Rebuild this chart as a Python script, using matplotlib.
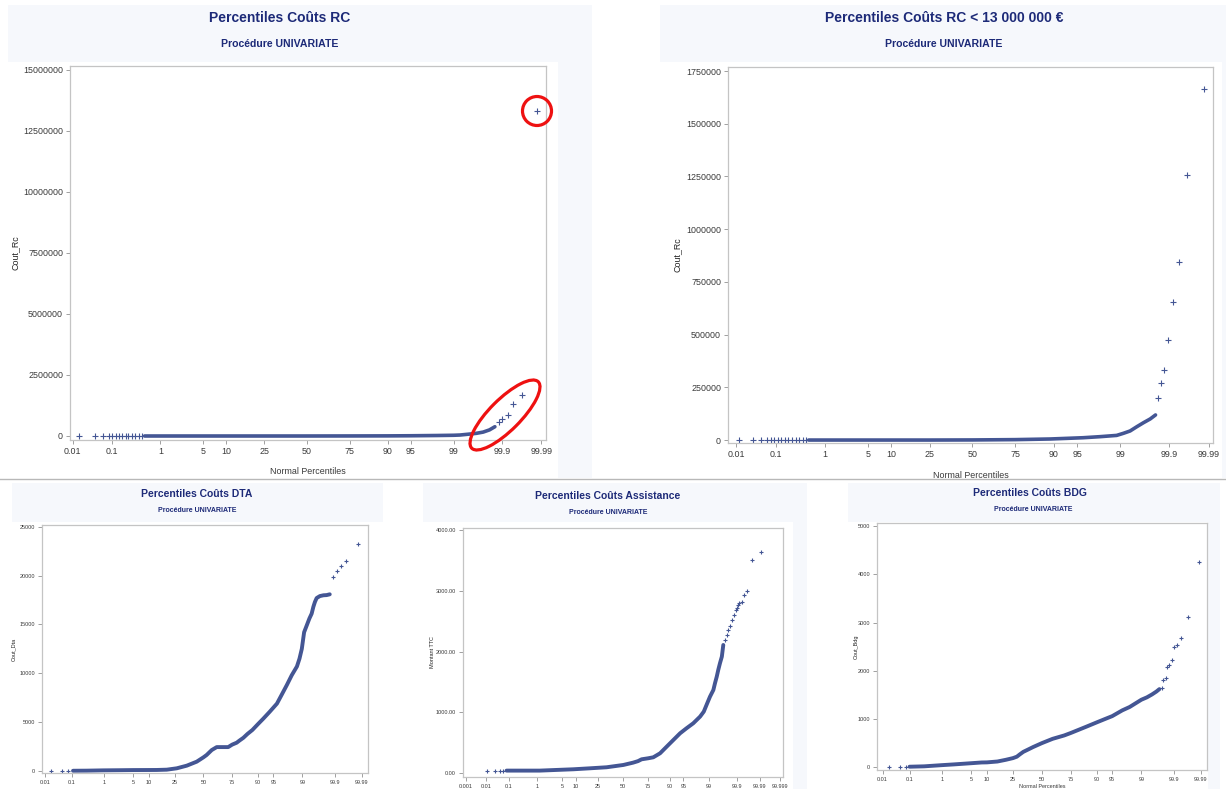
import numpy as np
import matplotlib.pyplot as plt
from matplotlib.patches import Rectangle, Ellipse, Circle

plt.rcParams['font.family'] = ['Liberation Sans', 'DejaVu Sans']

W, H = 1226, 789
MARK = '#445694'
TITLE = '#1d2a78'
FRAME = '#c4c4c4'

# ---- data: (percentile, value) ----
# Percentiles Couts RC (all claims)
rc_low_p = [0.015, 0.038, 0.062, 0.084, 0.10, 0.12, 0.14, 0.17, 0.20, 0.23, 0.27, 0.32, 0.38, 0.45]
rc_low_v = [0] * 14
rc_p = [0.5, 1, 5, 25, 50, 75, 90, 95, 98, 99, 99.24, 99.51, 99.64, 99.74, 99.81, 99.856]
rc_v = [0, 0, 0, 0, 0, 2000, 5000, 10000, 20000, 30000, 40000, 80000, 110000, 160000, 250000, 380000]
rc_tail_p = [99.886, 99.90, 99.927, 99.947, 99.967, 99.987]
rc_tail_v = [560000, 690000, 870000, 1300000, 1700000, 13320000]

# Percentiles Couts RC < 13 000 000
rcs_low_p = [0.012, 0.028, 0.045, 0.062, 0.077, 0.09, 0.11, 0.13, 0.16, 0.19, 0.23, 0.27, 0.32, 0.38, 0.45]
rcs_low_v = [0] * 15
rcs_p = [0.5, 1, 5, 25, 50, 75, 88.9, 93.1, 95.9, 97.75, 98.83, 99.12, 99.34, 99.51, 99.64, 99.74, 99.80]
rcs_v = [0, 0, 0, 0, 500, 2000, 5000, 8000, 11000, 16000, 22000, 32000, 43000, 63000, 82000, 100000, 119000]
rcs_tail_p = [99.823, 99.848, 99.872, 99.893, 99.919, 99.941, 99.962, 99.986]
rcs_tail_v = [201000, 272000, 332000, 476000, 656000, 846000, 1255000, 1665000]

# Percentiles Couts DTA
dta_low_p = [0.017, 0.044, 0.076]
dta_low_v = [20, 25, 30]
dta_p = [0.11, 0.31, 0.94, 2.5, 5, 9, 13.6, 19.5, 26.6, 34.8, 43.8, 50, 53, 57.8, 62.3, 67, 72,
         75, 78.3, 80, 82.6, 85, 87.5, 90, 92, 94, 95.8, 96.7, 97.5, 98.1, 98.6, 98.8, 98.96,
         99.02, 99.1, 99.24, 99.36, 99.45, 99.51, 99.56, 99.61, 99.69, 99.76, 99.81, 99.85]
dta_v = [30, 40, 70, 85, 100, 105, 110, 140, 280, 550, 960, 1400, 1640, 2150, 2450, 2450, 2450,
         2700, 2900, 3100, 3400, 3800, 4200, 4800, 5350, 6050, 6900, 7800, 8800, 9800, 10700, 11500, 12500,
         13200, 14200, 14900, 15600, 16100, 16800, 17300, 17700, 17900, 17980, 18000, 18080]
dta_tail_p = [99.887, 99.913, 99.937, 99.96, 99.986]
dta_tail_v = [19816, 20464, 20975, 21521, 23226]

# Percentiles Couts Assistance
ast_low_p = [0.011, 0.026, 0.043, 0.06]
ast_low_v = [40, 40, 40, 40]
ast_p = [0.08, 0.35, 1.2, 3.6, 9, 18.6, 33, 50.6, 61, 66, 69.5, 75.5, 79.6, 84.4, 88.3, 91.5, 94,
         95.8, 97.2, 98.2, 98.6, 98.9, 99.1, 99.3, 99.38, 99.46, 99.52, 99.58, 99.64, 99.68]
ast_v = [44, 44, 44, 55, 66, 82, 99, 137, 175, 200, 230, 247, 263, 329, 438, 548, 658,
         740, 822, 932, 1014, 1151, 1260, 1370, 1479, 1589, 1699, 1808, 1918, 2110]
ast_tail_p = [99.72, 99.76, 99.79, 99.82, 99.85, 99.87, 99.89, 99.90, 99.91, 99.92, 99.937, 99.95, 99.964, 99.978, 99.991]
ast_tail_v = [2192, 2274, 2356, 2422, 2520, 2600, 2680, 2720, 2760, 2800, 2822, 2932, 3003, 3507, 3644]

# Percentiles Couts BDG
bdg_low_p = [0.018, 0.046, 0.075]
bdg_low_v = [5, 8, 10]
bdg_p = [0.1, 0.3, 1, 2, 5, 8, 10, 15, 20, 25, 28, 30.5, 33.3, 37.6, 42, 50, 60, 70, 75, 80, 85,
         90, 93, 95, 97, 98, 99, 99.3, 99.5, 99.63, 99.7]
bdg_v = [12, 20, 45, 60, 85, 100, 102, 120, 155, 190, 220, 270, 320, 370, 420, 500, 590, 660, 710, 770, 840,
         930, 1000, 1060, 1180, 1250, 1400, 1450, 1510, 1570, 1620]
bdg_tail_p = [99.744, 99.774, 99.81, 99.832, 99.855, 99.879, 99.90, 99.923, 99.944, 99.967, 99.988]
bdg_tail_v = [1637, 1809, 1858, 2072, 2120, 2224, 2493, 2535, 2673, 3108, 4254]

pct_ticks = [0.01, 0.1, 1, 5, 10, 25, 50, 75, 90, 95, 99, 99.9, 99.99]
pct_ticks_ast = [0.001] + pct_ticks + [99.999]


def ppf(pct):
    # inverse normal cdf (Acklam), input in percent
    p = np.asarray(pct, float) / 100.0
    a = [-3.969683028665376e+01, 2.209460984245205e+02, -2.759285104469687e+02,
         1.383577518672690e+02, -3.066479806614716e+01, 2.506628277459239e+00]
    b = [-5.447609879822406e+01, 1.615858368580409e+02, -1.556989798598866e+02,
         6.680131188771972e+01, -1.328068155288572e+01]
    c = [-7.784894002430293e-03, -3.223964580411365e-01, -2.400758277161838e+00,
         -2.549732539343734e+00, 4.374664141464968e+00, 2.938163982698783e+00]
    d = [7.784695709041462e-03, 3.224671290700398e-01, 2.445134137142996e+00,
         3.754408661907416e+00]
    out = np.empty_like(p)
    lo = p < 0.02425
    hi = p > 1 - 0.02425
    mid = ~(lo | hi)
    q = np.sqrt(-2 * np.log(p[lo]))
    out[lo] = (((((c[0]*q+c[1])*q+c[2])*q+c[3])*q+c[4])*q+c[5]) / ((((d[0]*q+d[1])*q+d[2])*q+d[3])*q+1)
    q = np.sqrt(-2 * np.log(1 - p[hi]))
    out[hi] = -(((((c[0]*q+c[1])*q+c[2])*q+c[3])*q+c[4])*q+c[5]) / ((((d[0]*q+d[1])*q+d[2])*q+d[3])*q+1)
    q = p[mid] - 0.5
    r = q * q
    out[mid] = (((((a[0]*r+a[1])*r+a[2])*r+a[3])*r+a[4])*r+a[5])*q / (((((b[0]*r+b[1])*r+b[2])*r+b[3])*r+b[4])*r+1)
    return out


fig = plt.figure(figsize=(W / 100, H / 100), dpi=100)

# background boxes, in pixel coordinates
bg = fig.add_axes([0, 0, 1, 1])
bg.set_xlim(0, W)
bg.set_ylim(H, 0)
bg.axis('off')
bg.set_zorder(0)
for x0, x1, y0, y1, wx1 in [(8, 592, 5, 478, 558), (660, 1226, 5, 478, 1222),
                            (12, 383, 483, 789, 383), (423, 807, 483, 789, 793),
                            (848, 1220, 483, 789, 1208)]:
    ytop = 62 if y0 < 100 else 522
    bg.add_patch(Rectangle((x0, y0), x1 - x0, y1 - y0, color='#f6f8fc', lw=0))
    bg.add_patch(Rectangle((x0, ytop), wx1 - x0, y1 - ytop, color='white', lw=0))
bg.plot([0, W], [478.5, 478.5], color='#b8b8b8', lw=1)


def px_axes(l, t, r, b):
    return fig.add_axes([l / W, 1 - b / H, (r - l) / W, (b - t) / H])


def draw(box, low, dense, tail, ticks, xlim, ylim, yticks, ylabel, ylab_off,
         fs, lw, ms, fmt='{:d}', xlabel_off=None):
    ax = px_axes(*box)
    ax.set_zorder(1)
    ax.plot(ppf(low[0]), low[1], '+', color=MARK, ms=ms, mew=0.8, ls='none')
    ax.plot(ppf(dense[0]), dense[1], '-', color=MARK, lw=lw, solid_capstyle='round',
            solid_joinstyle='round')
    ax.plot(ppf(tail[0]), tail[1], '+', color=MARK, ms=ms, mew=0.8, ls='none')
    ax.set_xlim(*xlim)
    ax.set_ylim(*ylim)
    ax.set_xticks(ppf(ticks))
    ax.set_xticklabels([('%g' % t) for t in ticks])
    ax.set_yticks(yticks)
    ax.set_yticklabels([fmt.format(v) for v in yticks])
    for s in ax.spines.values():
        s.set_color(FRAME)
        s.set_linewidth(0.9)
    ax.tick_params(direction='out', length=3, width=0.7, color='#a0a0a0',
                   labelsize=fs, labelcolor='#3a3a3a', pad=2)
    ax.set_ylabel(ylabel, fontsize=fs, color='#222222')
    ax.yaxis.set_label_coords(ylab_off / (box[2] - box[0]), 0.5)
    if xlabel_off is not None:
        ax.set_xlabel('Normal Percentiles', fontsize=fs, color='#3a3a3a')
        ax.xaxis.set_label_coords(0.5, -xlabel_off / (box[3] - box[1]))
    return ax


# top-left
draw((70, 66, 546, 440), (rc_low_p, rc_low_v), (rc_p, rc_v), (rc_tail_p, rc_tail_v),
     pct_ticks, (-3.759, 3.791), (-0.164e6, 15.16e6), np.arange(0, 15000001, 2500000),
     'Cout_Rc', -50, 6.4, 2.6, 4.2, xlabel_off=27)
fig.text(280 / W, 1 - 18 / H, 'Percentiles Coûts RC', ha='center', va='center',
         fontsize=10, weight='bold', color=TITLE)
fig.text(280 / W, 1 - 44 / H, 'Procédure UNIVARIATE', ha='center', va='center',
         fontsize=7.6, weight='bold', color=TITLE)

# top-right
draw((728, 67, 1213, 443), (rcs_low_p, rcs_low_v), (rcs_p, rcs_v), (rcs_tail_p, rcs_tail_v),
     pct_ticks, (-3.844, 3.782), (-14000, 1769000), np.arange(0, 1750001, 250000),
     'Cout_Rc', -46, 6.4, 2.6, 4.2, xlabel_off=28)
fig.text(944 / W, 1 - 18 / H, 'Percentiles Coûts RC < 13 000 000 €', ha='center', va='center',
         fontsize=10, weight='bold', color=TITLE)
fig.text(944 / W, 1 - 44 / H, 'Procédure UNIVARIATE', ha='center', va='center',
         fontsize=7.6, weight='bold', color=TITLE)

# bottom-left
draw((42, 525, 368, 773), (dta_low_p, dta_low_v), (dta_p, dta_v), (dta_tail_p, dta_tail_v),
     pct_ticks, (-3.79, 3.866), (-200, 25170), np.arange(0, 25001, 5000),
     'Cout_Dta', -26, 4, 2.8, 3.0)
fig.text(197 / W, 1 - 494 / H, 'Percentiles Coûts DTA', ha='center', va='center',
         fontsize=7.5, weight='bold', color=TITLE)
fig.text(197 / W, 1 - 511 / H, 'Procédure UNIVARIATE', ha='center', va='center',
         fontsize=5, weight='bold', color=TITLE)

# bottom-middle
draw((463, 528, 783, 777), (ast_low_p, ast_low_v), (ast_p, ast_v), (ast_tail_p, ast_tail_v),
     pct_ticks_ast, (-4.337, 4.347), (-61, 4033), np.arange(0, 4001, 1000),
     'Montant TTC', -28, 4, 2.8, 3.0, fmt='{:.2f}')
fig.text(608 / W, 1 - 496 / H, 'Percentiles Coûts Assistance', ha='center', va='center',
         fontsize=7.5, weight='bold', color=TITLE)
fig.text(608 / W, 1 - 513 / H, 'Procédure UNIVARIATE', ha='center', va='center',
         fontsize=5, weight='bold', color=TITLE)

# bottom-right
draw((877, 523, 1207, 770), (bdg_low_p, bdg_low_v), (bdg_p, bdg_v), (bdg_tail_p, bdg_tail_v),
     pct_ticks, (-3.85, 3.86), (-56, 5062), np.arange(0, 5001, 1000),
     'Cout_Bdg', -18, 4, 2.8, 3.0, xlabel_off=14)
fig.text(1030 / W, 1 - 493 / H, 'Percentiles Coûts BDG', ha='center', va='center',
         fontsize=7.5, weight='bold', color=TITLE)
fig.text(1033 / W, 1 - 509 / H, 'Procédure UNIVARIATE', ha='center', va='center',
         fontsize=5, weight='bold', color=TITLE)

# red annotations on the first chart
ov = fig.add_axes([0, 0, 1, 1])
ov.set_xlim(0, W)
ov.set_ylim(H, 0)
ov.axis('off')
ov.set_zorder(5)
ov.add_patch(Circle((537, 111), 14.5, fill=False, ec='#ee1111', lw=2.3))
ov.add_patch(Ellipse((505, 415), 94, 31, angle=-45, fill=False, ec='#ee1111', lw=2.3))

fig.savefig('out.png', dpi=100)
